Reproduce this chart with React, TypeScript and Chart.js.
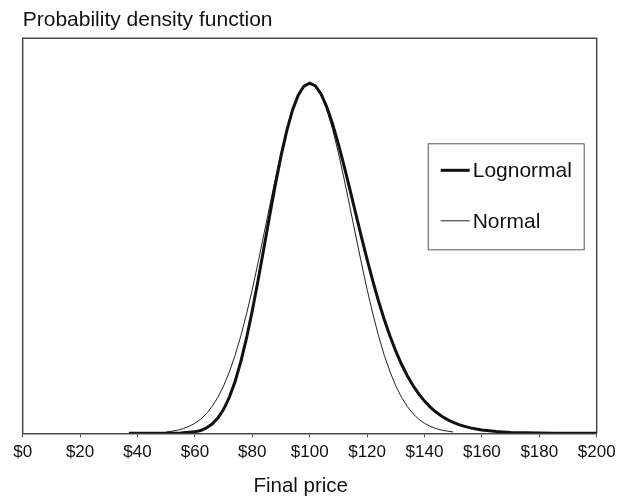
import React, { useEffect, useRef } from "react";
import { Chart, registerables } from "chart.js";

Chart.register(...registerables);

const titleText = "Probability density function";
const xAxisTitle = "Final price";
const xTickValues = [0, 20, 40, 60, 80, 100, 120, 140, 160, 180, 200];

const lognormalPrices = [
  37, 40, 45, 50, 55, 60, 62, 64, 66, 68, 70, 72, 74, 76, 78, 80, 82, 84, 86, 88, 90,
  92, 94, 96, 98, 100, 102, 104, 106, 108, 110, 112, 114, 116, 118, 120, 122, 124, 126,
  128, 130, 132, 134, 136, 138, 140, 142, 144, 146, 148, 150, 152, 154, 156, 158, 160,
  165, 170, 175, 180, 185, 190, 195, 200,
];
const lognormalDensity = [
  0, 0, 0, 0.001, 0.014, 0.109, 0.215, 0.4, 0.699, 1.158, 1.822, 2.736, 3.936, 5.439,
  7.242, 9.314, 11.599, 14.017, 16.47, 18.85, 21.05, 22.974, 24.538, 25.682, 26.372,
  26.6, 26.381, 25.751, 24.763, 23.478, 21.966, 20.291, 18.525, 16.722, 14.934, 13.202,
  11.56, 10.031, 8.631, 7.364, 6.235, 5.241, 4.374, 3.627, 2.989, 2.447, 1.993, 1.614,
  1.3, 1.042, 0.832, 0.661, 0.523, 0.412, 0.323, 0.253, 0.135, 0.07, 0.036, 0.018,
  0.009, 0.004, 0.002, 0.001,
];

const normalPrices = [
  50, 52, 54, 56, 58, 60, 62, 64, 66, 68, 70, 72, 74, 76, 78, 80, 82, 84, 86, 88, 90, 92,
  94, 96, 98, 100, 102, 104, 106, 108, 110, 112, 114, 116, 118, 120, 122, 124, 126, 128,
  130, 132, 134, 136, 138, 140, 142, 144, 146, 148, 150,
];
const normalDensity = [
  0.1, 0.16, 0.24, 0.36, 0.53, 0.76, 1.07, 1.49, 2.04, 2.73, 3.6, 4.66, 5.92, 7.39, 9.07,
  10.93, 12.95, 15.06, 17.2, 19.31, 21.3, 23.07, 24.55, 25.67, 26.36, 26.6, 26.36, 25.67,
  24.55, 23.07, 21.3, 19.31, 17.2, 15.06, 12.95, 10.93, 9.07, 7.39, 5.92, 4.66, 3.6,
  2.73, 2.04, 1.49, 1.07, 0.76, 0.53, 0.36, 0.24, 0.16, 0.1,
];

const seriesLabels = ["Lognormal", "Normal"];

const FONT = "'Liberation Sans', Arial, Helvetica, sans-serif";
const FRAME = "#4a4a4a";

const framePlugin = {
  id: "frameAndLegend",
  beforeDatasetsDraw(chart: any) {
    const { ctx, chartArea } = chart;
    ctx.save();
    ctx.strokeStyle = FRAME;
    ctx.lineWidth = 1.5;
    ctx.beginPath();
    ctx.moveTo(chartArea.left, chartArea.bottom);
    ctx.lineTo(chartArea.left, chartArea.top);
    ctx.lineTo(chartArea.right, chartArea.top);
    ctx.lineTo(chartArea.right, chartArea.bottom);
    ctx.stroke();
    ctx.restore();
  },
  afterDatasetsDraw(chart: any) {
    const { ctx, chartArea } = chart;
    const bx = chartArea.right - 169;
    const by = chartArea.top + 105;
    const bw = 156;
    const bh = 106;
    ctx.save();
    ctx.fillStyle = "#ffffff";
    ctx.fillRect(bx, by, bw, bh);
    ctx.strokeStyle = "#555555";
    ctx.lineWidth = 1;
    ctx.strokeRect(bx + 0.5, by + 0.5, bw, bh);
    const rows = [27, 77.5];
    chart.data.datasets.forEach((ds: any, i: number) => {
      const y = by + rows[i];
      ctx.strokeStyle = ds.borderColor;
      ctx.lineWidth = ds.borderWidth;
      ctx.beginPath();
      ctx.moveTo(bx + 13, y);
      ctx.lineTo(bx + 42, y);
      ctx.stroke();
      ctx.fillStyle = "#111111";
      ctx.font = `21px ${FONT}`;
      ctx.textBaseline = "middle";
      ctx.textAlign = "left";
      ctx.fillText(ds.label, bx + 45, y + 1);
    });
    ctx.restore();
  },
  afterDraw(chart: any) {
    const { ctx, chartArea } = chart;
    ctx.save();
    ctx.fillStyle = "#111111";
    ctx.font = `20.5px ${FONT}`;
    ctx.textAlign = "center";
    ctx.textBaseline = "alphabetic";
    const cx = (chartArea.left + chartArea.right) / 2 - 9;
    ctx.fillText(xAxisTitle, cx, chartArea.bottom + 58.5);
    ctx.restore();
  },
};

export default function App() {
  const canvasRef = useRef<HTMLCanvasElement | null>(null);

  useEffect(() => {
    document.body.style.margin = "0";
    const canvas = canvasRef.current;
    if (!canvas) return;
    const chart = new Chart(canvas, {
      type: "line",
      data: {
        datasets: [
          {
            label: seriesLabels[0],
            data: lognormalPrices.map((p, i) => ({ x: p, y: lognormalDensity[i] })),
            borderColor: "#111111",
            borderWidth: 3,
            pointRadius: 0,
            tension: 0,
            fill: false,
          },
          {
            label: seriesLabels[1],
            data: normalPrices.map((p, i) => ({ x: p, y: normalDensity[i] })),
            borderColor: "#222222",
            borderWidth: 1,
            pointRadius: 0,
            tension: 0,
            fill: false,
          },
        ],
      },
      options: {
        animation: false,
        responsive: false,
        devicePixelRatio: 1,
        layout: { padding: { left: 22.7, right: 20.3, top: 0, bottom: 31.3 } },
        plugins: {
          legend: { display: false },
          tooltip: { enabled: false },
          title: {
            display: true,
            text: titleText,
            align: "start",
            color: "#111111",
            font: { family: FONT, size: 21, weight: "normal" },
            padding: { top: 8.1, bottom: 5.0 },
          },
        },
        scales: {
          x: {
            type: "linear",
            min: 0,
            max: 200,
            afterBuildTicks: (scale: any) => {
              scale.ticks = xTickValues.map((v) => ({ value: v }));
            },
            afterFit: (scale: any) => {
              scale.paddingLeft = 0;
              scale.paddingRight = 0;
            },
            ticks: {
              callback: (v: any) => "$" + v,
              color: "#111111",
              font: { family: FONT, size: 17 },
              padding: 5,
              maxRotation: 0,
              autoSkip: false,
            },
            grid: {
              display: true,
              drawOnChartArea: false,
              drawTicks: true,
              tickLength: 4,
              color: FRAME,
              lineWidth: 1,
            },
            border: { display: true, color: FRAME, width: 1.5 },
            title: { display: false, text: xAxisTitle },
          },
          y: {
            display: false,
            min: 0,
            max: 30,
          },
        },
      },
      plugins: [framePlugin],
    });
    return () => chart.destroy();
  }, []);

  return (
    <div style={{ width: 617, height: 499, background: "#ffffff" }}>
      <canvas ref={canvasRef} width={617} height={499} />
    </div>
  );
}
